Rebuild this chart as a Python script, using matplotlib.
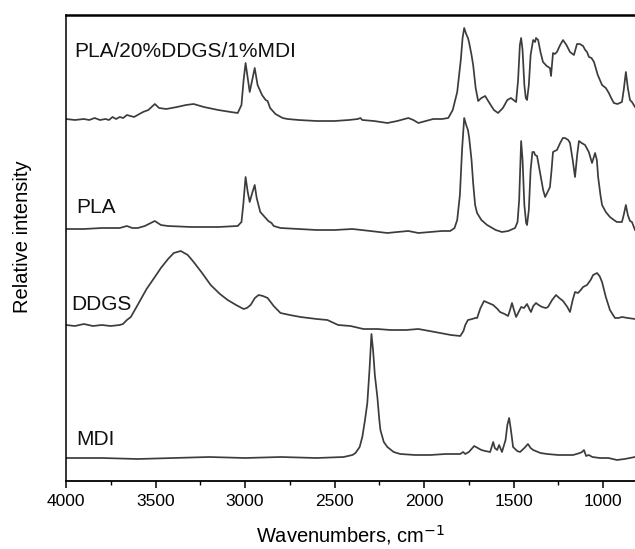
import matplotlib
matplotlib.use("Agg")
import matplotlib.pyplot as plt
from matplotlib.ticker import MultipleLocator, NullLocator

plt.rcParams['font.family'] = ['Liberation Sans', 'DejaVu Sans']

# ---- data (wavenumber, cm-1 ; relative intensity with vertical offsets) ----
blend_wn = [4000, 3950, 3900, 3870, 3840, 3810, 3780, 3760, 3740, 3720, 3700, 3680, 3660, 3640, 3620, 3600,
            3570, 3540, 3504, 3480, 3440, 3380, 3330, 3287, 3230, 3150, 3080, 3041, 3020, 3008, 2997, 2985,
            2974, 2960, 2946, 2930, 2905, 2885, 2874, 2860, 2830, 2790, 2763, 2700, 2600, 2500, 2420, 2370,
            2356, 2345, 2280, 2205, 2150, 2088, 2060, 2032, 1990, 1949, 1900, 1865, 1840, 1815, 1795, 1785,
            1776, 1765, 1755, 1748, 1735, 1726, 1712, 1698, 1680, 1659, 1635, 1610, 1587, 1560, 1535, 1515,
            1500, 1486, 1475, 1465, 1458, 1450, 1440, 1432, 1425, 1415, 1405, 1391, 1380, 1375, 1363, 1350,
            1336, 1315, 1297, 1291, 1280, 1270, 1258, 1240, 1224, 1205, 1185, 1163, 1146, 1130, 1112, 1100,
            1090, 1079, 1065, 1051, 1030, 1006, 985, 968, 955, 940, 920, 895, 885, 873, 862, 850, 839, 822]
blend_int = [362, 361, 362, 361, 363, 361, 362, 361, 364, 362, 364, 363, 366, 365, 364, 366,
             369, 371, 377, 373, 372, 374, 376, 377, 374, 371, 369, 368, 376, 401, 418, 403,
             389, 401, 413, 396, 386, 381, 380, 373, 367, 363, 362, 361, 360, 360, 361, 362,
             363, 361, 360, 358, 360, 363, 361, 358, 360, 362, 362, 363, 371, 389, 421, 443,
             453, 447, 443, 438, 426, 416, 393, 380, 383, 385, 378, 371, 368, 373, 381, 383,
             381, 379, 401, 436, 443, 431, 396, 383, 381, 396, 426, 441, 439, 443, 441, 429,
             419, 415, 413, 405, 428, 427, 429, 436, 441, 436, 429, 426, 437, 437, 435, 431,
             429, 424, 423, 419, 406, 396, 393, 388, 383, 378, 377, 379, 391, 409, 393, 381, 379, 374]

pla_wn = [4000, 3900, 3800, 3700, 3660, 3630, 3599, 3560, 3504, 3470, 3431, 3300, 3150, 3041, 3020, 3010,
          2997, 2985, 2974, 2960, 2946, 2935, 2915, 2885, 2870, 2852, 2840, 2802, 2700, 2600, 2500, 2400,
          2300, 2205, 2150, 2088, 2032, 1966, 1900, 1854, 1830, 1815, 1800, 1788, 1776, 1765, 1755, 1748,
          1735, 1726, 1715, 1704, 1680, 1648, 1600, 1565, 1530, 1492, 1478, 1469, 1458, 1450, 1440, 1430,
          1425, 1415, 1405, 1395, 1386, 1380, 1369, 1360, 1352, 1335, 1324, 1310, 1297, 1288, 1280, 1270,
          1258, 1240, 1225, 1213, 1195, 1185, 1170, 1157, 1145, 1135, 1120, 1101, 1080, 1062, 1045, 1035,
          1028, 1015, 1006, 985, 962, 940, 923, 895, 885, 873, 862, 850, 839, 822]
pla_int = [252, 252, 253, 253, 255, 253, 253, 255, 260, 256, 255, 254, 254, 255, 259, 276,
           304, 289, 279, 288, 296, 283, 269, 263, 260, 258, 255, 253, 252, 251, 251, 252,
           250, 248, 249, 250, 248, 249, 250, 250, 253, 261, 286, 331, 363, 356, 351, 343,
           321, 298, 276, 268, 261, 256, 251, 249, 250, 253, 259, 281, 340, 321, 276, 258,
           256, 271, 311, 329, 329, 326, 325, 316, 308, 291, 284, 289, 294, 311, 329, 330,
           331, 338, 343, 343, 341, 338, 321, 304, 326, 340, 338, 336, 329, 318, 328, 321,
           304, 286, 276, 269, 264, 261, 259, 259, 266, 276, 266, 260, 259, 251]

ddgs_wn = [4000, 3950, 3900, 3850, 3800, 3750, 3700, 3682, 3660, 3638, 3600, 3550, 3500, 3470, 3430, 3398,
           3359, 3320, 3287, 3240, 3192, 3140, 3097, 3050, 3008, 2990, 2969, 2945, 2924, 2900, 2874, 2840,
           2802, 2750, 2690, 2600, 2540, 2480, 2411, 2339, 2260, 2188, 2100, 2032, 1970, 1910, 1850, 1798,
           1780, 1770, 1755, 1731, 1715, 1704, 1685, 1665, 1640, 1614, 1590, 1576, 1550, 1531, 1520, 1509,
           1498, 1486, 1472, 1458, 1442, 1425, 1412, 1403, 1390, 1375, 1360, 1341, 1320, 1308, 1285, 1263,
           1245, 1224, 1200, 1185, 1170, 1157, 1140, 1125, 1112, 1090, 1070, 1056, 1034, 1020, 1006, 985,
           962, 934, 915, 895, 862, 822]
ddgs_int = [156, 155, 157, 155, 156, 155, 156, 157, 161, 164, 176, 192, 205, 213, 222, 228,
            230, 226, 219, 208, 196, 187, 181, 176, 172, 173, 176, 183, 186, 185, 183, 175,
            168, 166, 164, 162, 161, 156, 155, 152, 152, 151, 151, 152, 150, 148, 146, 145,
            150, 156, 161, 162, 163, 163, 173, 180, 178, 176, 172, 169, 167, 165, 171, 178,
            171, 164, 169, 174, 173, 177, 172, 169, 175, 178, 176, 174, 173, 174, 181, 186,
            183, 180, 174, 169, 181, 189, 188, 191, 194, 196, 201, 206, 208, 205, 199, 184,
            171, 163, 163, 164, 163, 162]

mdi_wn = [4000, 3800, 3600, 3400, 3200, 3000, 2800, 2600, 2450, 2400, 2383, 2360, 2345, 2330, 2317, 2305,
          2294, 2285, 2275, 2261, 2250, 2244, 2225, 2205, 2170, 2133, 2050, 1966, 1880, 1798, 1782, 1770,
          1750, 1720, 1700, 1680, 1659, 1631, 1614, 1605, 1592, 1581, 1565, 1545, 1535, 1525, 1515, 1503,
          1480, 1464, 1440, 1420, 1405, 1391, 1350, 1313, 1250, 1168, 1130, 1118, 1107, 1095, 1080, 1060,
          1018, 970, 923, 880, 822]
mdi_int = [23, 23, 22, 23, 24, 23, 24, 23, 24, 26, 28, 34, 44, 61, 78, 111,
           147, 131, 106, 84, 61, 51, 39, 34, 29, 27, 26, 26, 27, 27, 29, 27,
           29, 35, 33, 31, 30, 29, 39, 33, 31, 36, 29, 41, 56, 63, 51, 34,
           30, 29, 33, 37, 33, 31, 28, 27, 26, 26, 28, 29, 31, 25, 26, 24,
           23, 23, 21, 22, 24]

labels = ["PLA/20%DDGS/1%MDI", "PLA", "DDGS", "MDI"]
label_x = [3955, 3944, 3972, 3944]
label_y = [424, 268, 171, 36]

xticks_major = [4000, 3500, 3000, 2500, 2000, 1500, 1000]

# ---- figure ----
fig = plt.figure(figsize=(6.35, 5.49), dpi=100)
ax = fig.add_axes([66 / 635, 1 - 481 / 549, 1 - 66 / 635, (481 - 15) / 549])

col = '#3c3c3c'
for wn, it in [(blend_wn, blend_int), (pla_wn, pla_int), (ddgs_wn, ddgs_int), (mdi_wn, mdi_int)]:
    ax.plot(wn, it, color=col, lw=1.25, solid_joinstyle='round')

for t, x, y in zip(labels, label_x, label_y):
    ax.text(x, y, t, fontsize=15, ha='left', va='baseline', color='#111111')

ax.set_xlim(4000, 822)
ax.set_ylim(0, 466)
ax.set_xticks(xticks_major)
ax.xaxis.set_minor_locator(MultipleLocator(250))
ax.yaxis.set_major_locator(NullLocator())
ax.tick_params(axis='x', which='major', direction='out', length=5, width=1.1, labelsize=12.5, pad=4.5)
ax.tick_params(axis='x', which='minor', direction='out', length=3, width=1.0)

ax.spines['right'].set_visible(False)
ax.spines['top'].set_linewidth(1.8)
ax.spines['left'].set_linewidth(1.1)
ax.spines['bottom'].set_linewidth(1.3)

ax.set_xlabel('Wavenumbers, cm$^{-1}$', fontsize=14.5, labelpad=10)
fig.text(23 / 635, 1 - 237 / 549, 'Relative intensity', rotation=90, fontsize=14.5,
         ha='center', va='center')

fig.savefig('out.png', dpi=100)
